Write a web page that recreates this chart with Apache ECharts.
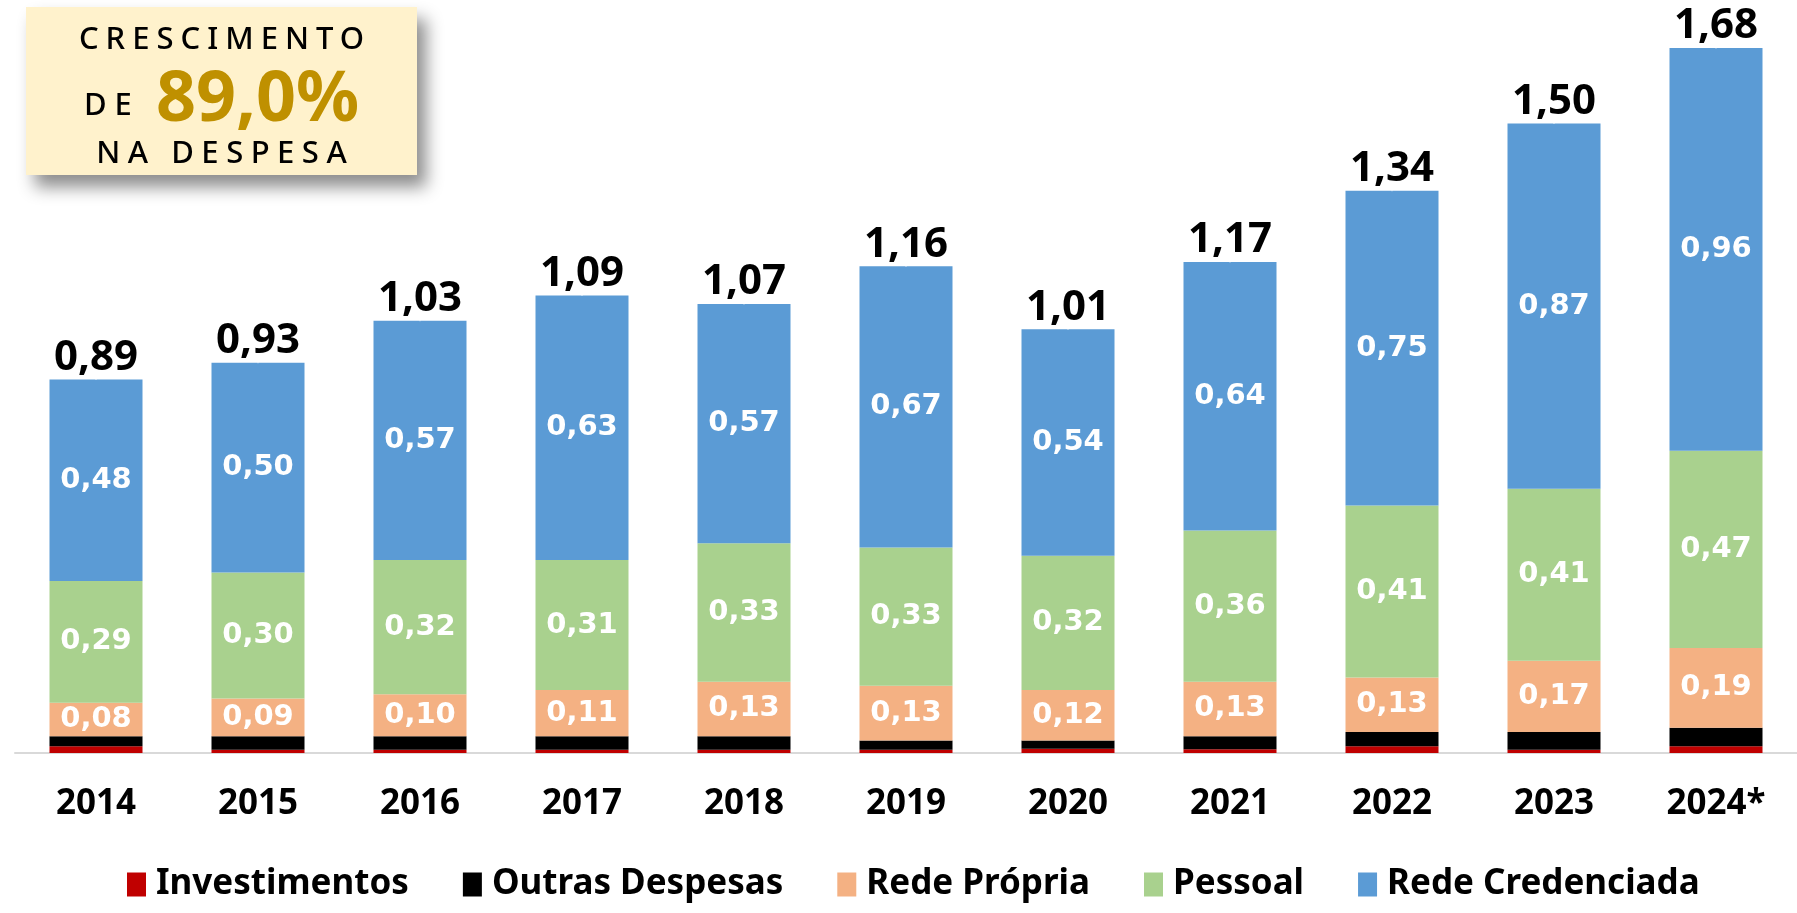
<!DOCTYPE html>
<html lang="pt">
<head>
    <meta charset="UTF-8">
    <title>Despesa</title>
    <style>
        body { margin: 0; background: #fff; }
        #wrap { position: relative; width: 1797px; height: 913px; }
        #main { position: absolute; left: 0; top: 0; width: 1797px; height: 913px; }
        #box {
            position: absolute; left: 26px; top: 7px; width: 391px; height: 168px;
            background: #fff2cc;
            box-shadow: 9px 12px 16px rgba(0, 0, 0, 0.45);
            font-family: "Noto Sans", sans-serif; color: #000;
            z-index: 2;
        }
        #box div { position: absolute; left: 0; width: 100%; text-align: center; white-space: nowrap; }
        .l1 { top: 10px; font-size: 31px; letter-spacing: 7px; text-indent: 7px; line-height: 40px; font-weight: 500; }
        .l2 { top: 44px; font-size: 31px; letter-spacing: 8px; line-height: 86px; font-weight: 500; }
        .l2 span { font-size: 70px; color: #bf9000; font-weight: 700; letter-spacing: 0; vertical-align: -6px; }
        .l3 { top: 124px; font-size: 31px; letter-spacing: 7.5px; text-indent: 7.5px; line-height: 40px; font-weight: 500; }
    </style>
</head>
<body>
<div id="wrap">
    <div id="main"></div>
    <div id="box">
        <div class="l1">CRESCIMENTO</div>
        <div class="l2">DE <span>89,0%</span></div>
        <div class="l3">NA DESPESA</div>
    </div>
</div>
<script src="https://cdn.jsdelivr.net/npm/echarts@6/dist/echarts.min.js"></script>
<script>
    var anos = ['2014', '2015', '2016', '2017', '2018', '2019', '2020', '2021', '2022', '2023', '2024*'];
    var investimentos = [0.016, 0.008, 0.008, 0.008, 0.008, 0.008, 0.010, 0.009, 0.016, 0.008, 0.016];
    var outrasDespesas = [0.024, 0.032, 0.032, 0.032, 0.032, 0.022, 0.020, 0.031, 0.034, 0.042, 0.044];
    var redePropria = [0.08, 0.09, 0.10, 0.11, 0.13, 0.13, 0.12, 0.13, 0.13, 0.17, 0.19];
    var pessoal = [0.29, 0.30, 0.32, 0.31, 0.33, 0.33, 0.32, 0.36, 0.41, 0.41, 0.47];
    var redeCredenciada = [0.48, 0.50, 0.57, 0.63, 0.57, 0.67, 0.54, 0.64, 0.75, 0.87, 0.96];
    var totais = [0.89, 0.93, 1.03, 1.09, 1.07, 1.16, 1.01, 1.17, 1.34, 1.50, 1.68];

    function fmt(v) {
        return v.toFixed(2).replace('.', ',');
    }

    var insideLabel = {
        show: true,
        position: 'inside',
        color: '#fff',
        fontFamily: 'DejaVu Sans',
        fontWeight: 'bold',
        fontSize: 29,
        formatter: function (p) { return fmt(p.value); }
    };

    function barra(nome, dados, cor, comLabel) {
        return {
            name: nome,
            type: 'bar',
            stack: 'total',
            data: dados,
            barWidth: 93,
            itemStyle: { color: cor },
            label: comLabel ? insideLabel : { show: false },
            silent: true
        };
    }

    var myChart = echarts.init(document.getElementById('main'));
    var option = {
        backgroundColor: '#ffffff',
        animation: false,
        legend: {
            data: ['Investimentos', 'Outras Despesas', 'Rede Própria', 'Pessoal', 'Rede Credenciada'],
            left: 122,
            top: 862,
            itemWidth: 19,
            itemHeight: 24,
            itemGap: 54,
            icon: 'rect',
            selectedMode: false,
            textStyle: {
                fontFamily: 'Noto Sans',
                fontWeight: 'bold',
                fontSize: 35,
                color: '#000',
                padding: [0, 0, 0, 5]
            }
        },
        grid: {
            left: 15,
            right: 0,
            top: 48,
            bottom: 160
        },
        xAxis: {
            type: 'category',
            data: anos,
            axisLine: { show: true, lineStyle: { color: '#d9d9d9', width: 2 } },
            axisTick: { show: false },
            axisLabel: {
                margin: 34,
                color: '#000',
                fontFamily: 'Noto Sans',
                fontWeight: 'bold',
                fontSize: 35
            }
        },
        yAxis: {
            type: 'value',
            min: 0,
            max: 1.68,
            show: false
        },
        series: [
            barra('Investimentos', investimentos, '#c00000', false),
            barra('Outras Despesas', outrasDespesas, '#000000', false),
            barra('Rede Própria', redePropria, '#f4b183', true),
            barra('Pessoal', pessoal, '#a9d18e', true),
            barra('Rede Credenciada', redeCredenciada, '#5b9bd5', true),
            {
                name: 'Total',
                type: 'scatter',
                data: totais,
                symbolSize: 1,
                itemStyle: { color: '#ffffff', opacity: 1 },
                silent: true,
                label: {
                    show: true,
                    position: 'top',
                    distance: 0,
                    color: '#000',
                    opacity: 1,
                    fontFamily: 'Noto Sans',
                    fontWeight: 'bold',
                    fontSize: 42,
                    formatter: function (p) { return fmt(p.value); }
                }
            }
        ]
    };
    myChart.setOption(option);
</script>
</body>
</html>
